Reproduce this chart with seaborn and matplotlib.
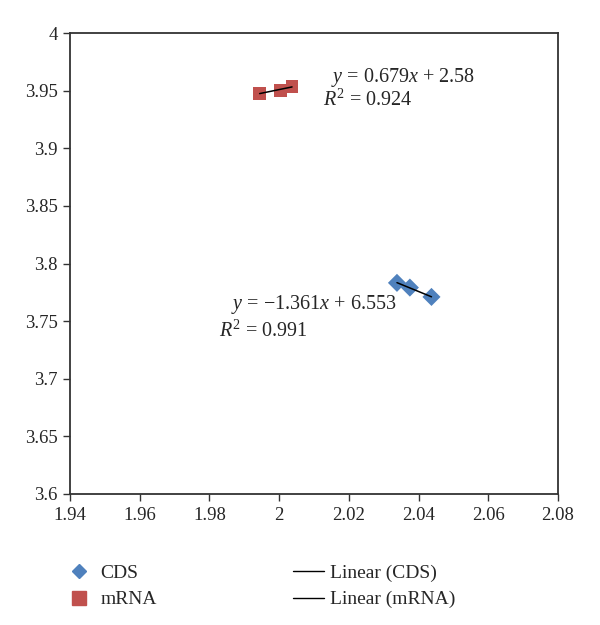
import numpy as np
import pandas as pd
import matplotlib
matplotlib.use("Agg")
import matplotlib.pyplot as plt
import seaborn as sns
from matplotlib.lines import Line2D

# Data
cds_x = [2.0338, 2.0375, 2.0437]
cds_y = [3.7832, 3.7791, 3.7710]
mrna_x = [1.9944, 2.0004, 2.0037]
mrna_y = [3.9478, 3.9501, 3.9539]

cds_eq = ["$y$ = \u22121.361$x$ + 6.553", "$R^2$ = 0.991"]
mrna_eq = ["$y$ = 0.679$x$ + 2.58", "$R^2$ = 0.924"]

x_ticks = [1.94, 1.96, 1.98, 2.00, 2.02, 2.04, 2.06, 2.08]
x_labels = ["1.94", "1.96", "1.98", "2", "2.02", "2.04", "2.06", "2.08"]
y_ticks = [3.6, 3.65, 3.7, 3.75, 3.8, 3.85, 3.9, 3.95, 4.0]
y_labels = ["3.6", "3.65", "3.7", "3.75", "3.8", "3.85", "3.9", "3.95", "4"]

sns.set_style("white")
plt.rcParams['font.family'] = ['Liberation Serif', 'DejaVu Serif']
plt.rcParams['mathtext.fontset'] = 'custom'
plt.rcParams['mathtext.rm'] = 'Liberation Serif'
plt.rcParams['mathtext.it'] = 'Liberation Serif:italic'

blue = "#4F81BD"
red = "#C0504D"

df = pd.DataFrame({
    "x": cds_x + mrna_x,
    "y": cds_y + mrna_y,
    "series": ["CDS"] * len(cds_x) + ["mRNA"] * len(mrna_x),
})

fig = plt.figure(figsize=(6.0, 6.25), dpi=100)
ax = fig.add_axes([0.1167, 0.2096, 0.8133, 0.7376])

sns.scatterplot(data=df, x="x", y="y", hue="series", style="series",
                markers={"CDS": "D", "mRNA": "s"},
                palette={"CDS": blue, "mRNA": red},
                s=85, linewidth=0, ax=ax, legend=False, zorder=3)

# linear trendlines
for xs, ys in [(cds_x, cds_y), (mrna_x, mrna_y)]:
    k, b = np.polyfit(xs, ys, 1)
    xx = np.array([min(xs), max(xs)])
    ax.plot(xx, k * xx + b, color="black", lw=1.1, zorder=4)

ax.set_xlim(1.94, 2.08)
ax.set_ylim(3.6, 4.0)
ax.set_xticks(x_ticks)
ax.set_xticklabels(x_labels)
ax.set_yticks(y_ticks)
ax.set_yticklabels(y_labels)
ax.set_xlabel("")
ax.set_ylabel("")
ax.tick_params(axis="both", direction="out", length=5, width=1, color="#333333",
               labelsize=13.5, bottom=True, left=True, pad=4)
for sp in ax.spines.values():
    sp.set_visible(True)
    sp.set_color("#333333")
    sp.set_linewidth(1.3)

fs = 14.5
ax.text(2.0150, 3.9618, mrna_eq[0], fontsize=fs, va="center", ha="left")
ax.text(2.0126, 3.9419, mrna_eq[1], fontsize=fs, va="center", ha="left")
ax.text(1.9862, 3.7645, cds_eq[0], fontsize=fs, va="center", ha="left")
ax.text(1.9827, 3.7410, cds_eq[1], fontsize=fs, va="center", ha="left")

handles = [
    Line2D([], [], marker="D", color=blue, linestyle="none", markersize=7.5),
    Line2D([], [], marker="s", color=red, linestyle="none", markersize=9.5),
    Line2D([], [], color="black", lw=1),
    Line2D([], [], color="black", lw=1),
]
labels = ["CDS", "mRNA", "Linear (CDS)", "Linear (mRNA)"]
fig.legend(handles, labels, ncol=2, frameon=False, fontsize=14,
           loc="upper left", bbox_to_anchor=(0.077, 0.125),
           columnspacing=7.0, handlelength=1.6, handletextpad=0.3,
           labelspacing=0.45)

fig.savefig("out.png", dpi=100, facecolor="white")
